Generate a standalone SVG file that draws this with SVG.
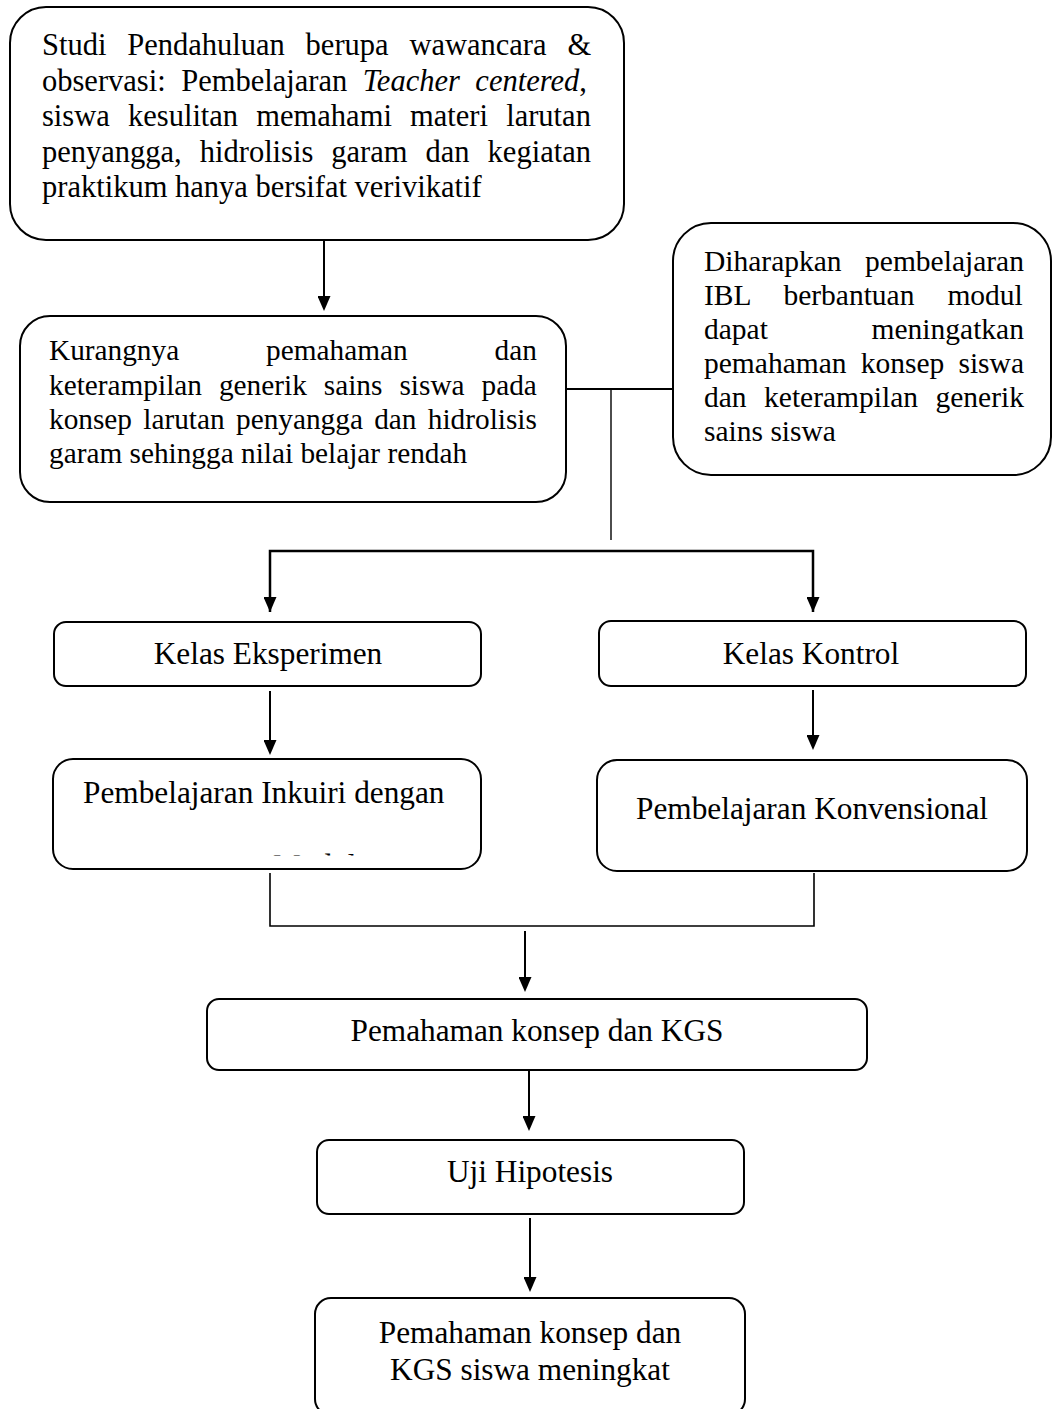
<svg xmlns="http://www.w3.org/2000/svg" width="1053" height="1409" viewBox="0 0 1053 1409">
<defs>
<style>
.box{fill:#fff;stroke:#000;stroke-width:2}
.ln{fill:none;stroke:#000;stroke-width:2}
.thin{fill:none;stroke:#000;stroke-width:1.4}
.t{font-family:"Liberation Serif","Times New Roman",serif;fill:#000}
.p1{font-size:30.5px}
.p2{font-size:29.3px}
.p3{font-size:29.5px}
.lb{font-size:31.3px}
.c{text-anchor:middle}
</style>
<marker id="ah" viewBox="0 0 15 13" refX="2" refY="6.5" markerWidth="15" markerHeight="13" markerUnits="userSpaceOnUse" orient="auto">
<path d="M0,0 L15,6.5 L0,13 Z" fill="#000"/>
</marker>
<clipPath id="clipModul"><rect x="250" y="840" width="150" height="15.6"/></clipPath>
</defs>
<rect width="1053" height="1409" fill="#fff"/>

<g id="connectors">
<line class="ln" x1="324" y1="240" x2="324" y2="298" marker-end="url(#ah)"/>
<line class="ln" x1="566" y1="389" x2="673" y2="389"/>
<line class="thin" x1="611" y1="389" x2="611" y2="540"/>
<polyline class="ln" style="stroke-width:2.5" points="270,612 270,551 813,551 813,612" marker-start="none"/>
<line class="ln" x1="270" y1="551" x2="270" y2="599" marker-end="url(#ah)"/>
<line class="ln" x1="813" y1="551" x2="813" y2="599" marker-end="url(#ah)"/>
<line class="ln" x1="270" y1="691" x2="270" y2="742" marker-end="url(#ah)"/>
<line class="ln" x1="813" y1="690" x2="813" y2="737" marker-end="url(#ah)"/>
<polyline class="thin" style="stroke-width:1.6" points="270,873 270,926 814,926 814,873"/>
<line class="ln" x1="525" y1="931" x2="525" y2="979" marker-end="url(#ah)"/>
<line class="ln" x1="529" y1="1070" x2="529" y2="1118" marker-end="url(#ah)"/>
<line class="ln" x1="530" y1="1218" x2="530" y2="1279" marker-end="url(#ah)"/>
</g>

<g id="n1">
<rect class="box" x="10" y="7" width="614" height="233" rx="36"/>
<text class="t p1" x="42" y="55" word-spacing="13.2">Studi Pendahuluan berupa wawancara &amp;</text>
<text class="t p1" x="42" y="90.5" word-spacing="7.9">observasi: Pembelajaran <tspan font-style="italic">Teacher centered</tspan>,</text>
<text class="t p1" x="42" y="126" word-spacing="10.6">siswa kesulitan memahami materi larutan</text>
<text class="t p1" x="42" y="161.5" word-spacing="10.4">penyangga, hidrolisis garam dan kegiatan</text>
<text class="t p1" x="42" y="197">praktikum hanya bersifat verivikatif</text>
</g>

<g id="n2">
<rect class="box" x="20" y="316" width="546" height="186" rx="30"/>
<text class="t p2" x="49" y="360" word-spacing="79.6">Kurangnya pemahaman dan</text>
<text class="t p2" x="49" y="394.5" word-spacing="9.7">keterampilan generik sains siswa pada</text>
<text class="t p2" x="49" y="429" word-spacing="4">konsep larutan penyangga dan hidrolisis</text>
<text class="t p2" x="49" y="463">garam sehingga nilai belajar rendah</text>
</g>

<g id="n3">
<rect class="box" x="673" y="223" width="378" height="252" rx="38"/>
<text class="t p3" x="704" y="271" word-spacing="16.1">Diharapkan pembelajaran</text>
<text class="t p3" x="704" y="305" word-spacing="25.6">IBL berbantuan modul</text>
<text class="t p3" x="704" y="339" word-spacing="96.3">dapat meningatkan</text>
<text class="t p3" x="704" y="373" word-spacing="6.8">pemahaman konsep siswa</text>
<text class="t p3" x="704" y="407" word-spacing="10.1">dan keterampilan generik</text>
<text class="t p3" x="704" y="441">sains siswa</text>
</g>

<g id="n4">
<rect class="box" x="54" y="622" width="427" height="64" rx="12"/>
<text class="t lb c" x="268" y="664">Kelas Eksperimen</text>
</g>

<g id="n5">
<rect class="box" x="599" y="621" width="427" height="65" rx="12"/>
<text class="t lb c" x="811" y="664">Kelas Kontrol</text>
</g>

<g id="n6">
<rect class="box" x="53" y="759" width="428" height="110" rx="20"/>
<text class="t lb" x="83" y="803">Pembelajaran Inkuiri dengan</text>
<text class="t lb" x="273" y="875.5" clip-path="url(#clipModul)">Modul</text>
</g>

<g id="n7">
<rect class="box" x="597" y="760" width="430" height="111" rx="20"/>
<text class="t lb c" x="812" y="819">Pembelajaran Konvensional</text>
</g>

<g id="n8">
<rect class="box" x="207" y="999" width="660" height="71" rx="12"/>
<text class="t lb c" x="537" y="1041">Pemahaman konsep dan KGS</text>
</g>

<g id="n9">
<rect class="box" x="317" y="1140" width="427" height="74" rx="12"/>
<text class="t lb c" x="530" y="1182">Uji Hipotesis</text>
</g>

<g id="n10">
<rect class="box" x="315" y="1298" width="430" height="117" rx="16"/>
<text class="t lb c" x="530" y="1343">Pemahaman konsep dan</text>
<text class="t lb c" x="530" y="1380">KGS siswa meningkat</text>
</g>
</svg>
